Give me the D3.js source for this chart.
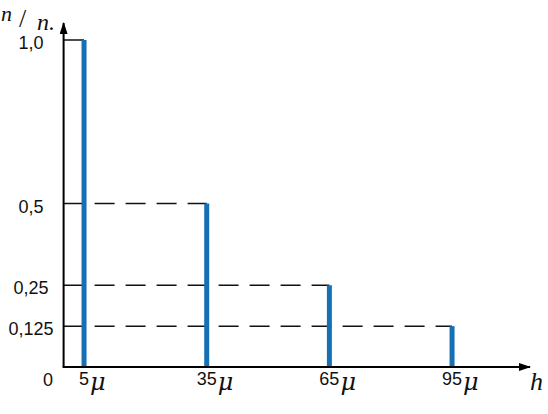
<!DOCTYPE html>
<html><head><meta charset="utf-8">
<script src="https://cdn.jsdelivr.net/npm/d3@7"></script>
<style>html,body{margin:0;padding:0;background:#fff;}svg{display:block;}</style>
</head><body>
<svg id="c" width="548" height="414"></svg>
<script>
const heights = [5, 35, 65, 95];
const heightLabels = ["5", "35", "65", "95"];
const unitLabel = "μ";
const ratios = [1.0, 0.5, 0.25, 0.125];
const yTickValues = [1.0, 0.5, 0.25, 0.125];
const yTickLabels = ["1,0", "0,5", "0,25", "0,125"];

const svg = d3.select("#c");
const x = d3.scaleLinear().domain([0, 100]).range([63.6, 472.5]);
const y = d3.scaleLinear().domain([0, 1]).range([367, 40]);
const barColor = "#1670b4";

const defs = svg.append("defs");
defs.append("marker").attr("id", "arr").attr("viewBox", "0 0 12 8")
  .attr("refX", 11).attr("refY", 4).attr("markerWidth", 12).attr("markerHeight", 8)
  .attr("markerUnits", "userSpaceOnUse").attr("orient", "auto")
  .append("path").attr("d", "M0,0 L12,4 L0,8 Z").attr("fill", "#000");

const guides = svg.append("g");
ratios.forEach((r, i) => {
  guides.append("line")
    .attr("x1", x(0)).attr("x2", x(heights[i]))
    .attr("y1", y(r)).attr("y2", y(r))
    .attr("stroke", "#111").attr("stroke-width", 1.5)
    .attr("stroke-dasharray", i === 0 ? null : "20,11");
});

svg.append("g").selectAll("line").data(heights).join("line")
  .attr("x1", d => x(d)).attr("x2", d => x(d))
  .attr("y1", y(0)).attr("y2", (d, i) => y(ratios[i]))
  .attr("stroke", barColor).attr("stroke-width", 5);

svg.append("line").attr("x1", x(0)).attr("y1", y(0)).attr("x2", x(0)).attr("y2", 23)
  .attr("stroke", "#000").attr("stroke-width", 2).attr("marker-end", "url(#arr)");
svg.append("line").attr("x1", x(0) - 1).attr("y1", y(0)).attr("x2", 530).attr("y2", y(0))
  .attr("stroke", "#000").attr("stroke-width", 2).attr("marker-end", "url(#arr)");

const font = "'Liberation Sans', Arial, sans-serif";
svg.append("g").selectAll("text").data(yTickValues).join("text")
  .attr("x", 31).attr("y", d => y(d) + 9)
  .attr("text-anchor", "middle")
  .attr("font-family", font).attr("font-size", 18).attr("fill", "#111")
  .text((d, i) => yTickLabels[i]);

svg.append("text").attr("x", 48).attr("y", y(0) + 19).attr("text-anchor", "middle")
  .attr("font-family", font).attr("font-size", 18).attr("fill", "#111").text("0");

const xl = svg.append("g");
heights.forEach((h, i) => {
  const t = xl.append("text").attr("x", x(h)).attr("y", y(0) + 18)
    .attr("text-anchor", "middle")
    .attr("font-family", font).attr("font-size", 18).attr("fill", "#111")
    .text(heightLabels[i]);
  const w = t.node().getComputedTextLength();
  xl.append("text").attr("x", x(h) + w / 2 + 1).attr("y", y(0) + 23)
    .attr("font-family", "'DejaVu Serif', serif").attr("font-style", "italic")
    .attr("font-size", 24).attr("fill", "#111").text(unitLabel);
});

const serif = "'Liberation Serif', 'DejaVu Serif', serif";
svg.append("text").attr("x", 530).attr("y", 390)
  .attr("font-family", serif).attr("font-style", "italic").attr("font-size", 26)
  .attr("fill", "#111").text("h");
svg.append("text").attr("x", 1).attr("y", 21)
  .attr("font-family", serif).attr("font-style", "italic").attr("font-size", 22)
  .attr("fill", "#111").text("n");
svg.append("text").attr("x", 19).attr("y", 27)
  .attr("font-family", serif).attr("font-size", 26)
  .attr("fill", "#111").text("/");
svg.append("text").attr("x", 37).attr("y", 30)
  .attr("font-family", serif).attr("font-style", "italic").attr("font-size", 24)
  .attr("fill", "#111").text("n.");
</script>
</body></html>
